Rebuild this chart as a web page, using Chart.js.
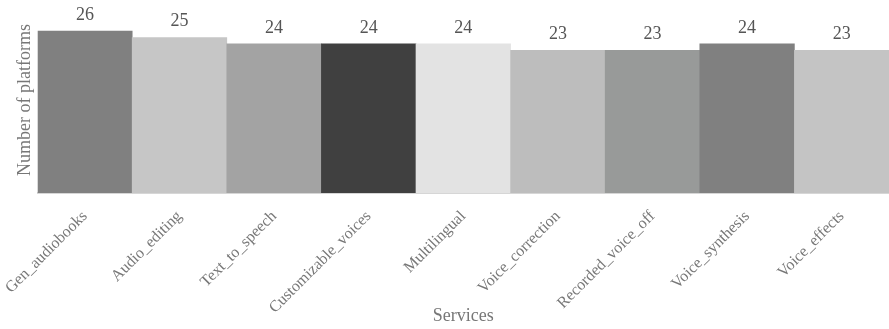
<!DOCTYPE html>
<html lang="en">
<head>
    <meta charset="UTF-8">
    <title>Services by number of platforms</title>
    <script src="https://cdn.jsdelivr.net/npm/chart.js"></script>
    <style>
        html, body { margin: 0; padding: 0; background: #fff; }
        .chart-box { width: 889px; height: 329px; position: relative; }
    </style>
</head>
<body>
    <div class="chart-box">
        <canvas id="servicesChart"></canvas>
    </div>

    <script>
        // Services and how many platforms offer each
        const services = ['Gen_audiobooks', 'Audio_editing', 'Text_to_speech', 'Customizable_voices',
            'Multilingual', 'Voice_correction', 'Recorded_voice_off', 'Voice_synthesis', 'Voice_effects'];
        const platformCounts = [26, 25, 24, 24, 24, 23, 23, 24, 23];
        const barShades = ['#808080', '#c6c6c6', '#a3a3a3', '#404040', '#e3e3e3',
            '#bdbdbd', '#989a99', '#808080', '#c4c4c4'];

        const serif = 'Liberation Serif, Times New Roman, serif';

        // Write each count above its bar
        const valueLabels = {
            id: 'valueLabels',
            afterDatasetsDraw(chart) {
                const ctx = chart.ctx;
                const meta = chart.getDatasetMeta(0);
                ctx.save();
                ctx.font = '18px ' + serif;
                ctx.fillStyle = '#555';
                ctx.textAlign = 'center';
                ctx.textBaseline = 'alphabetic';
                meta.data.forEach((bar, i) => {
                    ctx.fillText(String(platformCounts[i]), bar.x, bar.y - 11);
                });
                ctx.restore();
            }
        };

        new Chart(document.getElementById('servicesChart'), {
            type: 'bar',
            data: {
                labels: services,
                datasets: [{
                    data: platformCounts,
                    backgroundColor: barShades,
                    borderWidth: 0,
                    categoryPercentage: 1,
                    barPercentage: 1
                }]
            },
            options: {
                responsive: true,
                maintainAspectRatio: false,
                animation: false,
                layout: { padding: { top: 7, left: 8, right: 0, bottom: 0 } },
                plugins: {
                    legend: { display: false },
                    tooltip: { enabled: false }
                },
                scales: {
                    x: {
                        // fixed axis height; the long first label may hang past the left edge
                        afterFit(scale) {
                            scale.height = 136;
                            scale.paddingLeft = 0;
                            scale.paddingRight = 0;
                        },
                        grid: { display: false, drawTicks: false },
                        border: { display: true, color: '#d6d6d6', width: 2 },
                        ticks: {
                            minRotation: 45,
                            maxRotation: 45,
                            padding: 14,
                            color: '#777',
                            font: { family: serif, size: 16 }
                        },
                        title: {
                            display: true,
                            text: 'Services',
                            color: '#777',
                            font: { family: serif, size: 18 },
                            padding: { top: 0, bottom: 2 }
                        }
                    },
                    y: {
                        min: 1,
                        max: 29.7,
                        grid: { display: false, drawTicks: false },
                        border: { display: false },
                        ticks: { display: false },
                        title: {
                            display: true,
                            text: 'Number of platforms',
                            color: '#777',
                            font: { family: serif, size: 18 },
                            padding: { top: 6, bottom: 2 }
                        }
                    }
                }
            },
            plugins: [valueLabels]
        });
    </script>
</body>
</html>
